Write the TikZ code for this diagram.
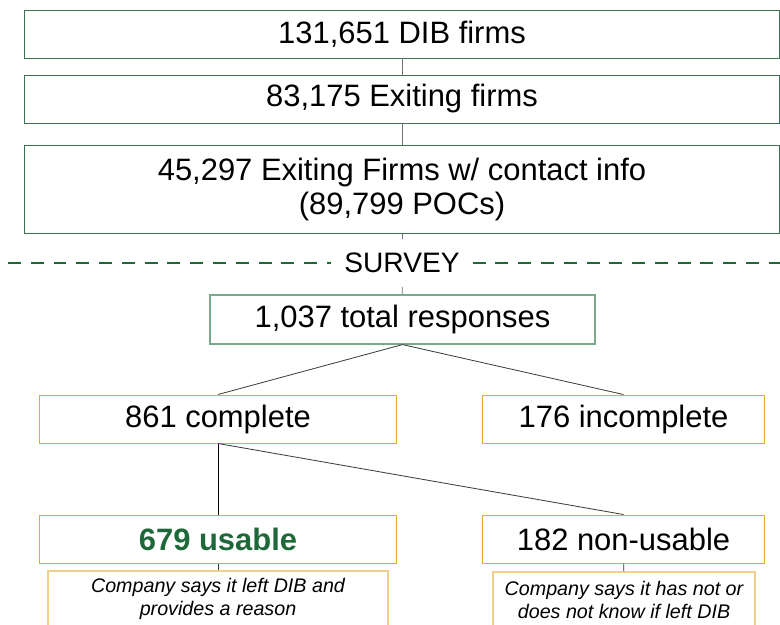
\documentclass[tikz,border=0pt]{standalone}
\usepackage{fontspec}
\setmainfont{Liberation Sans}
\usetikzlibrary{positioning, calc}

\definecolor{boxgreen}{RGB}{62,112,82}
\definecolor{palegreen}{RGB}{122,168,138}
\definecolor{darkgreen}{RGB}{30,104,58}
\definecolor{gold}{RGB}{228,172,48}
\definecolor{palegold}{RGB}{242,208,140}
\definecolor{linegray}{RGB}{115,115,115}

\begin{document}
\begin{tikzpicture}[x=0.025cm, y=-0.025cm,
    bigfont/.style={font=\fontsize{22}{23.5}\selectfont},
    topbox/.style={draw=boxgreen, line width=0.7pt, minimum width=18.875cm, minimum height=1.2cm, inner sep=0pt, align=center, bigfont},
    splitbox/.style={draw=gold, line width=0.7pt, minimum height=1.2cm, inner sep=0pt, align=center, bigfont},
    notebox/.style={draw=palegold, line width=1.4pt, anchor=north, minimum height=1.4cm, inner sep=0pt, align=center, font=\fontsize{14}{16.5}\selectfont\itshape},
    link/.style={draw=linegray, line width=0.6pt}]
    \useasboundingbox (0,0) rectangle (780,624);

    % Firms
    \node[topbox] (dib) at (402,34) {131,651 DIB firms};
    \node[topbox] (exiting) at (402,99) {83,175 Exiting firms};
    \node[topbox, minimum height=2.175cm] (contact) at (402,189.5) {45,297 Exiting Firms w/ contact info\\(89,799 POCs)};
    \draw[link] (dib) -- (exiting);
    \draw[link] (exiting) -- (contact);

    % Survey divider
    \node[font=\fontsize{20}{22}\selectfont, inner xsep=0.32cm, inner ysep=0pt, minimum height=1.175cm] (survey) at (402,263) {SURVEY};
    \coordinate (dashL) at (8,263);
    \coordinate (dashR) at (780,263);
    \draw[darkgreen, line width=2pt, dash pattern=on 9.2pt off 7pt] (dashL) -- (survey.west);
    \draw[darkgreen, line width=2pt, dash pattern=on 9.2pt off 7pt] (survey.east) -- (dashR);
    \draw[link] (contact) -- (survey);

    % Responses
    \node[draw=palegreen, line width=0.8pt, minimum width=9.625cm, minimum height=1.225cm, inner sep=0pt, bigfont] (total) at (402.5,319.5) {1,037 total responses};
    \draw[link] (survey) -- (total);
    \node[splitbox, minimum width=8.9cm] (complete) at (218,419) {861 complete};
    \node[splitbox, minimum width=7.025cm] (incomplete) at (623.5,419) {176 incomplete};
    \draw[link, draw=black!75] (total.south) -- (complete.north);
    \draw[link, draw=black!75] (total.south) -- (incomplete.north);

    % Usable or not
    \node[splitbox, minimum width=8.9cm, text=darkgreen, font=\fontsize{22}{23.5}\selectfont\bfseries] (usable) at (218,539) {679 usable};
    \node[splitbox, minimum width=7.025cm] (nonusable) at (623.5,539) {182 non-usable};
    \draw[link, draw=black] (complete.south) -- (usable.north);
    \draw[link, draw=black!75] (complete.south) -- (nonusable.north);

    \node[notebox, minimum width=8.5cm] (reason) at (218,570) {Company says it left DIB and\\provides a reason};
    \node[notebox, minimum width=6.55cm] (notleft) at (624,571) {Company says it has not or\\does not know if left DIB};
    \draw[link, draw=black!80] (usable) -- (reason);
    \draw[link, draw=black!80] (nonusable) -- (notleft);
\end{tikzpicture}
\end{document}
